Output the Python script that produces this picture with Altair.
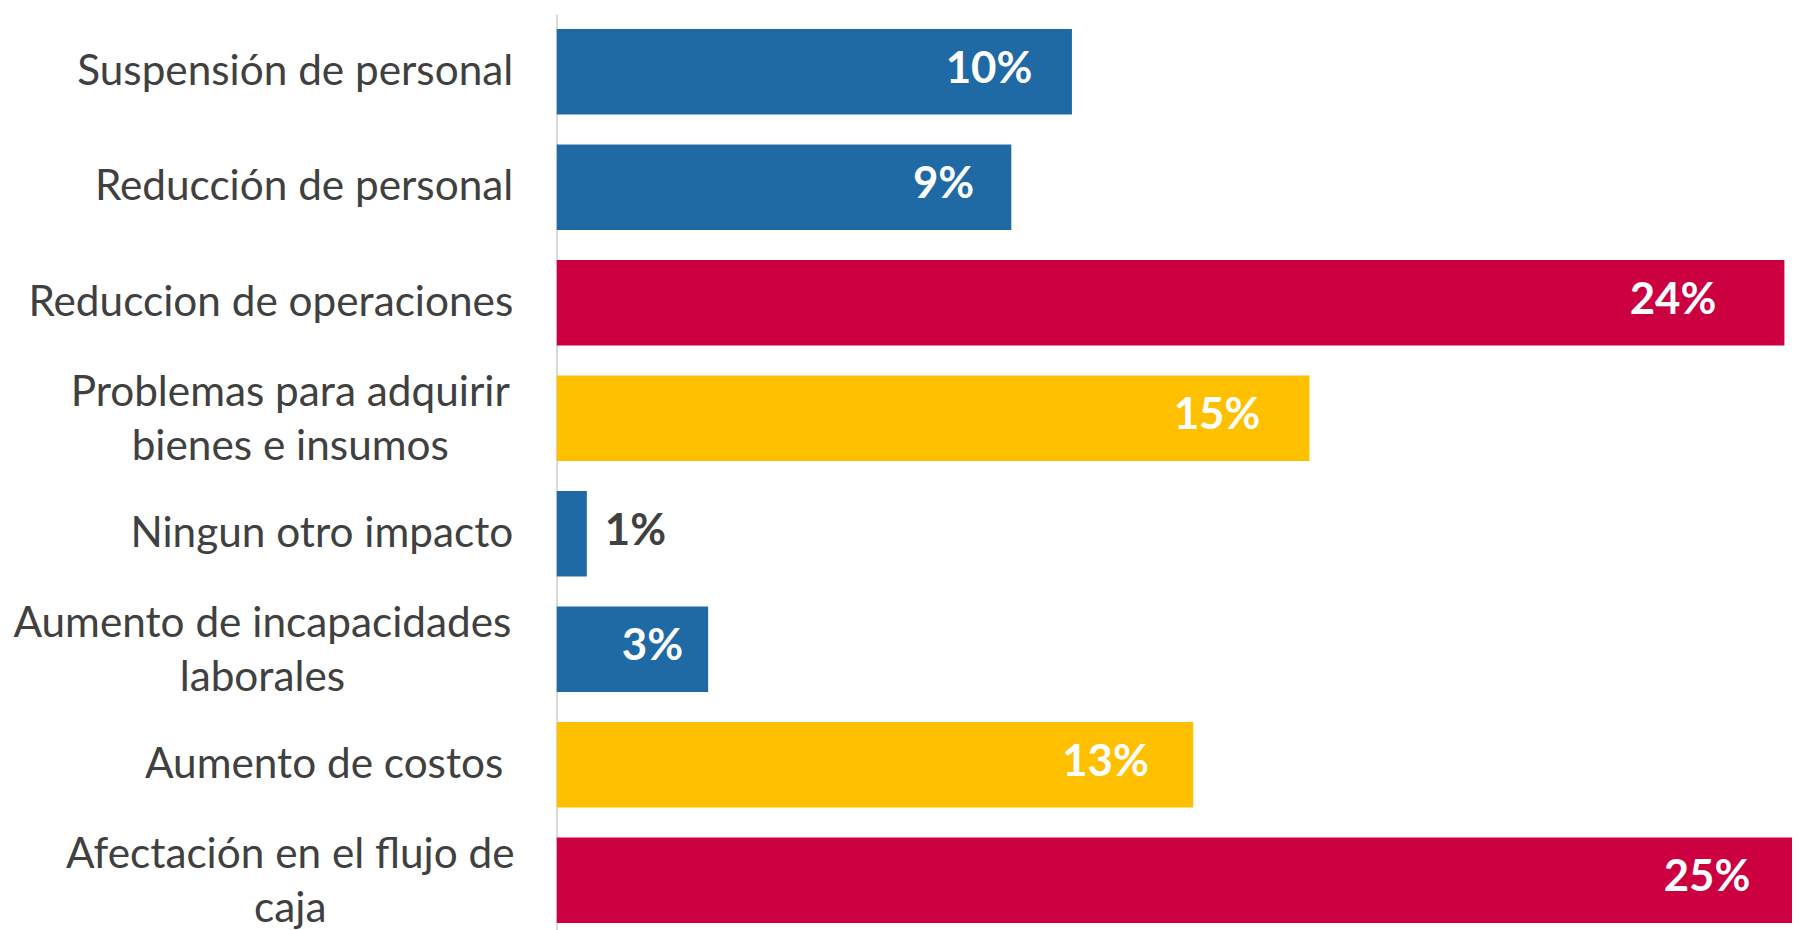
import altair as alt
import pandas as pd

# ---- data ----
categorias = [
    "Suspensión de personal",
    "Reducción de personal",
    "Reduccion de operaciones",
    "Problemas para adquirir\nbienes e insumos",
    "Ningun otro impacto",
    "Aumento de incapacidades\nlaborales",
    "Aumento de costos ",
    "Afectación en el flujo de\ncaja",
]
valores = [10.2, 9.0, 24.3, 14.9, 0.6, 3.0, 12.6, 25.0]
grupos = ["bajo", "bajo", "alto", "medio", "bajo", "bajo", "medio", "alto"]

grupo_dominio = ["alto", "medio", "bajo"]
grupo_colores = ["#CC0040", "#FFC000", "#1F6AA5"]

# label offsets (px from the axis): centre of wrapped labels, right edge otherwise
label_pad = {
    "Problemas para adquirir": 268,
    "Aumento de incapacidades": 296,
    "Afectación en el flujo de": 268,
    "Aumento de costos ": 54,
}
pad_base = 44
line_h = 54

df = pd.DataFrame({"categoria": categorias, "valor": valores, "grupo": grupos})

first_line = "split(datum.value, '\\n')[0]"
pad_expr = ""
for k, v in label_pad.items():
    pad_expr += f"{first_line} == '{k}' ? {v} : "
pad_expr += str(pad_base)

xscale = alt.Scale(domain=[0, 24.45], nice=False, zero=True)

y_axis = alt.Axis(
    title=None,
    ticks=False,
    tickSize=0,
    domain=True,
    domainColor="#d9d9d9",
    domainWidth=2,
    labelFont="Lato",
    labelFontSize=42.5,
    labelColor="#404040",
    labelExpr="split(datum.value, '\\n')",
    labelAlign=alt.expr("indexof(datum.value, '\\n') >= 0 ? 'center' : 'right'"),
    labelPadding=alt.expr(pad_expr),
    labelOffset=alt.expr(f"indexof(datum.value, '\\n') >= 0 ? {-line_h / 2 + 2} : 0"),
    labelLineHeight=line_h,
    labelBaseline="middle",
    labelLimit=0,
)

y_enc = alt.Y(
    "categoria:N",
    sort=categorias,
    scale=alt.Scale(range=[0, 928], paddingInner=0.26, paddingOuter=0.13),
    axis=y_axis,
)

base = alt.Chart(df)

bars = base.mark_bar(clip=True).encode(
    x=alt.X("valor:Q", scale=xscale, axis=None),
    y=y_enc,
    color=alt.Color("grupo:N", scale=alt.Scale(domain=grupo_dominio, range=grupo_colores), legend=None),
)

inside = (
    base.transform_filter("datum.valor >= 2")
    .transform_calculate(pos="datum.valor * 0.96", etiqueta="format(datum.valor, '.0f') + '%'")
    .mark_text(align="right", baseline="middle", dx=-19, dy=-2, font="Lato",
               fontWeight="bold", fontSize=44, color="white")
    .encode(x=alt.X("pos:Q", scale=xscale, axis=None),
            y=alt.Y("categoria:N", sort=categorias),
            text="etiqueta:N")
)

outside = (
    base.transform_filter("datum.valor < 2")
    .transform_calculate(etiqueta="format(datum.valor, '.0f') + '%'")
    .mark_text(align="left", baseline="middle", dx=18, dy=-2, font="Lato",
               fontWeight="bold", fontSize=44, color="#404040")
    .encode(x=alt.X("valor:Q", scale=xscale, axis=None),
            y=alt.Y("categoria:N", sort=categorias),
            text="etiqueta:N")
)

chart = (
    alt.layer(bars, inside, outside)
    .properties(
        width=1241,
        height=918,
        padding={"left": 551, "top": 4, "right": 0, "bottom": 0},
        autosize=alt.AutoSizeParams(type="none"),
        background="white",
    )
    .configure_view(stroke=None)
)

chart.save("out.html", embed_options={"renderer": "svg", "actions": False})
